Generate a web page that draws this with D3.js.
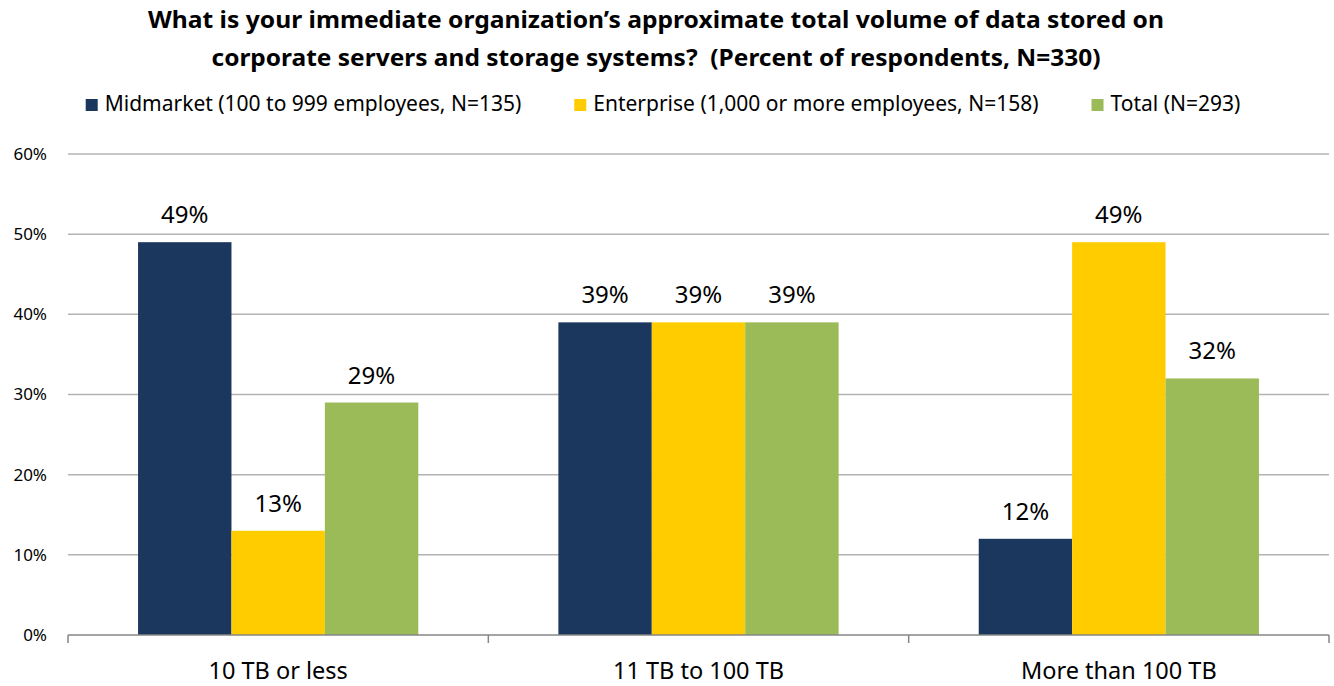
<!DOCTYPE html>
<html>
<head>
<meta charset="utf-8">
<script src="https://cdn.jsdelivr.net/npm/d3@7"></script>
<style>
  body { margin: 0; background: #fff; }
  svg { display: block; font-family: 'Noto Sans', 'Open Sans', sans-serif; }
  text { white-space: pre; }
</style>
</head>
<body>
<svg id="chart" width="1334" height="686"></svg>
<script>
const titleLines = [
  'What is your immediate organization\u2019s approximate total volume of data stored on',
  'corporate servers and storage systems?  (Percent of respondents, N=330)'
]
const categories = ['10 TB or less', '11 TB to 100 TB', 'More than 100 TB']
const seriesNames = [
  'Midmarket (100 to 999 employees, N=135)',
  'Enterprise (1,000 or more employees, N=158)',
  'Total (N=293)'
]
const midmarket = [49, 39, 12]
const enterprise = [13, 39, 49]
const total = [29, 39, 32]
const yTicks = [0, 10, 20, 30, 40, 50, 60]
const seriesColors = ['#1b375e', '#ffcc00', '#9bbb59']

const marginLeft = 68
const marginRight = 5
const marginTop = 154
const marginBottom = 51
const width = 1334
const height = 686

const svg = d3.select('#chart')
const values = [midmarket, enterprise, total]

// title
svg.append('g')
  .selectAll('text')
  .data(titleLines)
  .join('text')
  .attr('x', 656)
  .attr('y', (d, i) => 28 + i * 38)
  .attr('text-anchor', 'middle')
  .attr('font-weight', 'bold')
  .attr('font-size', 24)
  .attr('fill', '#000')
  .attr('textLength', (d, i) => (i === 0 ? 1016 : 889))
  .attr('lengthAdjust', 'spacingAndGlyphs')
  .text((d) => d)

// legend
const legend = svg.append('g')
let lx = 0
seriesNames.forEach((name, i) => {
  const g = legend.append('g')
  g.append('rect')
    .attr('y', -12)
    .attr('width', 12)
    .attr('height', 12)
    .attr('fill', seriesColors[i])
  const t = g.append('text')
    .attr('x', 19)
    .attr('font-size', 21)
    .attr('fill', '#000')
    .text(name)
  const w = 19 + t.node().getComputedTextLength()
  g.attr('transform', `translate(${lx},111)`)
  lx += w + 53
})
const legendWidth = lx - 53
legend.attr('transform', `translate(${663 - legendWidth / 2},0)`)

const x = d3.scaleBand()
  .domain(categories)
  .range([marginLeft, width - marginRight])

const inner = d3.scaleBand()
  .domain(d3.range(values.length))
  .range([0, x.bandwidth()])
  .paddingOuter(0.75)

const y = d3.scaleLinear()
  .domain([0, 60])
  .range([height - marginBottom, marginTop])

// gridlines
svg.append('g')
  .selectAll('line')
  .data(yTicks.filter((d) => d > 0))
  .join('line')
  .attr('x1', marginLeft)
  .attr('x2', width - marginRight)
  .attr('y1', (d) => y(d))
  .attr('y2', (d) => y(d))
  .attr('stroke', '#b3b3b3')
  .attr('stroke-width', 1.5)

// y axis labels
svg.append('g')
  .selectAll('text')
  .data(yTicks)
  .join('text')
  .attr('x', 47)
  .attr('y', (d) => y(d))
  .attr('dy', '0.35em')
  .attr('text-anchor', 'end')
  .attr('font-size', 17)
  .attr('fill', '#000')
  .text((d) => d + '%')

// bars
const groups = svg.append('g')
  .selectAll('g')
  .data(categories)
  .join('g')
  .attr('transform', (d) => `translate(${x(d)},0)`)

groups.selectAll('rect')
  .data((d, ci) => values.map((s, si) => ({ si, v: s[ci] })))
  .join('rect')
  .attr('x', (d) => inner(d.si))
  .attr('width', inner.bandwidth())
  .attr('y', (d) => y(d.v))
  .attr('height', (d) => y(0) - y(d.v))
  .attr('fill', (d) => seriesColors[d.si])

groups.selectAll('text')
  .data((d, ci) => values.map((s, si) => ({ si, v: s[ci] })))
  .join('text')
  .attr('x', (d) => inner(d.si) + inner.bandwidth() / 2)
  .attr('y', (d) => y(d.v) - 19)
  .attr('text-anchor', 'middle')
  .attr('font-size', 24)
  .attr('fill', '#000')
  .text((d) => d.v + '%')

// x axis
const xAxis = svg.append('g')
  .attr('transform', `translate(0,${y(0)})`)
xAxis.append('line')
  .attr('x1', marginLeft)
  .attr('x2', width - marginRight)
  .attr('stroke', '#868686')
  .attr('stroke-width', 1.5)
xAxis.selectAll('line.tick')
  .data(categories.map((c) => x(c)).concat([width - marginRight]))
  .join('line')
  .attr('class', 'tick')
  .attr('x1', (d) => d)
  .attr('x2', (d) => d)
  .attr('y1', 0)
  .attr('y2', 8)
  .attr('stroke', '#868686')
  .attr('stroke-width', 1.5)
xAxis.selectAll('text')
  .data(categories)
  .join('text')
  .attr('x', (d) => x(d) + x.bandwidth() / 2)
  .attr('y', 44)
  .attr('text-anchor', 'middle')
  .attr('font-size', 23.5)
  .attr('fill', '#000')
  .text((d) => d)
</script>
</body>
</html>
